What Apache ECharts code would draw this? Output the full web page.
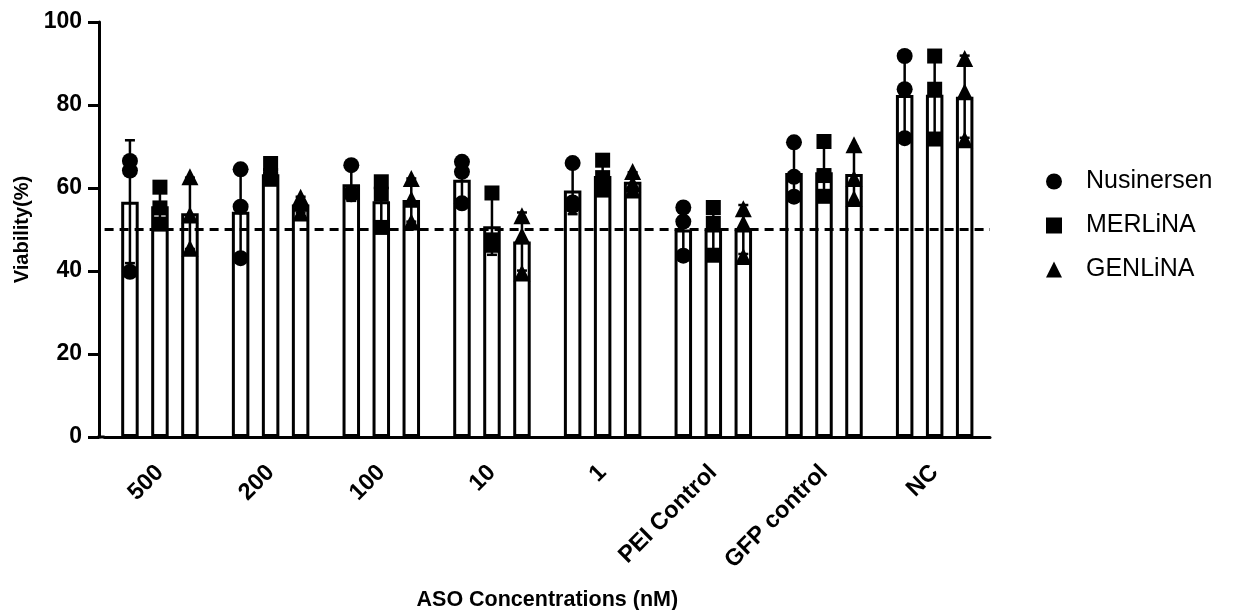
<!DOCTYPE html>
<html>
<head>
<meta charset="utf-8">
<script src="https://cdn.jsdelivr.net/npm/echarts@6/dist/echarts.min.js"></script>
<style>
  html, body { margin: 0; padding: 0; background: #fff; }
  #chart { width: 1234px; height: 610px; }
</style>
</head>
<body>
<div id="chart"></div>
<script>
// categories on the x axis
const categories = ['500', '200', '100', '10', '1', 'PEI Control', 'GFP control', 'NC'];
const seriesNames = ['Nusinersen', 'MERLiNA', 'GENLiNA'];

// bar heights (mean)
const nusinersenMean = [56.7, 54.3, 60.9, 62.0, 59.4, 50.0, 63.6, 82.4];
const merlinaMean    = [55.6, 63.3, 56.8, 50.8, 62.9, 50.0, 63.8, 82.5];
const genlinaMean    = [53.9, 56.0, 57.1, 47.1, 61.5, 50.0, 63.4, 82.0];

// error bar half-lengths (SD)
const nusinersenSd = [14.8, 10.7, 4.0, 5.2, 5.7, 6.0, 6.6, 10.0];
const merlinaSd    = [4.5, 2.0, 5.7, 6.9, 3.6, 5.9, 6.7, 10.1];
const genlinaSd    = [8.6, 1.9, 5.2, 7.0, 2.3, 5.9, 6.5, 9.9];

// individual replicate points
const nusinersenPts = [
  [66.5, 64.2, 39.8], [64.5, 55.5, 43.1], [65.5, 58.8, 58.5], [66.3, 63.9, 56.3],
  [66.0, 56.5, 55.7], [55.3, 51.9, 43.7], [71.0, 62.7, 57.9], [91.8, 83.8, 72.0]
];
const merlinaPts = [
  [60.2, 55.2, 51.3], [65.9, 63.0, 62.1], [61.5, 58.5, 50.5], [58.8, 47.5, 46.2],
  [66.7, 62.5, 59.5], [55.3, 51.5, 43.8], [71.2, 63.0, 58.0], [91.8, 83.8, 71.8]
];
const genlinaPts = [
  [62.7, 53.5, 45.5], [57.8, 56.3, 54.0], [62.3, 57.3, 51.8], [53.3, 48.5, 39.5],
  [64.0, 61.0, 59.5], [55.0, 51.5, 43.5], [70.4, 62.3, 57.5], [91.2, 83.2, 71.6]
];

const yTicks = [0, 20, 40, 60, 80, 100];
const threshold = 50;

const FONT = 'Liberation Sans, Arial, sans-serif';
const BAR_W = 17.5;
const STEP = 30;
const GRID_LEFT = 104.6;
const GRID_BOTTOM = 173;
const Y_OFFSET = 5.6;

const means = [nusinersenMean, merlinaMean, genlinaMean];
const sds = [nusinersenSd, merlinaSd, genlinaSd];
const pts = [nusinersenPts, merlinaPts, genlinaPts];
const symbols = ['circle', 'rect', 'triangle'];
const symbolSizes = [16, 15, 17];

var myChart = echarts.init(document.getElementById('chart'), null, { renderer: 'canvas' });

function errorItem(offset) {
  return function (params, api) {
    const i = api.value(0);
    const x = api.coord([i, 0])[0] + offset;
    const lo = api.coord([i, api.value(1)])[1];
    const hi = api.coord([i, api.value(2)])[1];
    const hw = 5;
    const st = { stroke: '#000', lineWidth: 2.5 };
    return {
      type: 'group',
      children: [
        { type: 'line', shape: { x1: x, y1: lo, x2: x, y2: hi }, style: st },
        { type: 'line', shape: { x1: x - hw, y1: hi, x2: x + hw, y2: hi }, style: st },
        { type: 'line', shape: { x1: x - hw, y1: lo, x2: x + hw, y2: lo }, style: st }
      ]
    };
  };
}

const series = [];
// bars
seriesNames.forEach((name, s) => {
  const bar = {
    name: name + ' bar',
    type: 'bar',
    barWidth: BAR_W,
    barGap: ((STEP - BAR_W) / BAR_W * 100) + '%',
    data: means[s],
    itemStyle: { color: '#fff', borderColor: '#000', borderWidth: 3 },
    silent: true,
    z: 2
  };
  if (s === 0) {
    bar.markLine = {
      silent: true,
      symbol: 'none',
      label: { show: false },
      lineStyle: { color: '#000', width: 3, type: [9, 6] },
      data: [{ yAxis: threshold }],
      z: 5
    };
  }
  series.push(bar);
});
// error bars
seriesNames.forEach((name, s) => {
  series.push({
    name: name + ' sd',
    type: 'custom',
    renderItem: errorItem((s - 1) * STEP),
    data: means[s].map((m, i) => [i, m - sds[s][i], m + sds[s][i]]),
    silent: true,
    z: 3
  });
});
// replicate points
seriesNames.forEach((name, s) => {
  const data = [];
  pts[s].forEach((arr, i) => arr.forEach(v => data.push([i, v])));
  series.push({
    name: name,
    type: 'scatter',
    symbol: symbols[s],
    symbolSize: symbolSizes[s],
    symbolOffset: [(s - 1) * STEP, 0],
    itemStyle: { color: '#000', opacity: 1 },
    data: data,
    silent: true,
    z: 4
  });
});

const option = {
  animation: false,
  backgroundColor: '#fff',
  grid: {
    left: GRID_LEFT, right: 244, top: 22, bottom: GRID_BOTTOM,
    containLabel: false,
    outerBoundsMode: 'none'
  },
  legend: {
    data: seriesNames.map((n, s) => ({ name: n, icon: symbols[s] })),
    orient: 'vertical',
    left: 1041,
    top: 164,
    itemWidth: 16,
    itemHeight: 16,
    itemGap: 19,
    selectedMode: false,
    textStyle: { fontFamily: FONT, fontSize: 25, color: '#000', padding: [0, 0, 0, 19] }
  },
  xAxis: {
    type: 'category',
    data: categories,
    name: 'ASO Concentrations (nM)',
    nameLocation: 'middle',
    nameGap: 152,
    nameTextStyle: { fontFamily: FONT, fontSize: 21.5, fontWeight: 'bold', color: '#000' },
    axisLine: { lineStyle: { color: '#000', width: 3 } },
    axisTick: { alignWithLabel: true, length: 12, lineStyle: { color: '#000', width: 3 } },
    axisLabel: {
      rotate: 45,
      margin: 32,
      fontFamily: FONT,
      fontSize: 23.5,
      fontWeight: 'bold',
      color: '#000'
    }
  },
  yAxis: {
    type: 'value',
    min: yTicks[0],
    max: yTicks[yTicks.length - 1],
    interval: yTicks[1] - yTicks[0],
    offset: Y_OFFSET,
    name: 'Viability(%)',
    nameLocation: 'middle',
    nameGap: 64,
    nameTextStyle: { fontFamily: FONT, fontSize: 20, fontWeight: 'bold', color: '#000' },
    axisLine: { show: true, lineStyle: { color: '#000', width: 3 } },
    axisTick: { show: true, length: 11, lineStyle: { color: '#000', width: 3 } },
    axisLabel: { margin: 17, fontFamily: FONT, fontSize: 23, fontWeight: 'bold', color: '#000' },
    splitLine: { show: false }
  },
  graphic: [{
    type: 'line',
    shape: {
      x1: GRID_LEFT - Y_OFFSET - 1.5, y1: 610 - GRID_BOTTOM,
      x2: GRID_LEFT, y2: 610 - GRID_BOTTOM
    },
    style: { stroke: '#000', lineWidth: 3 },
    silent: true
  }],
  series: series
};

myChart.setOption(option);
</script>
</body>
</html>
